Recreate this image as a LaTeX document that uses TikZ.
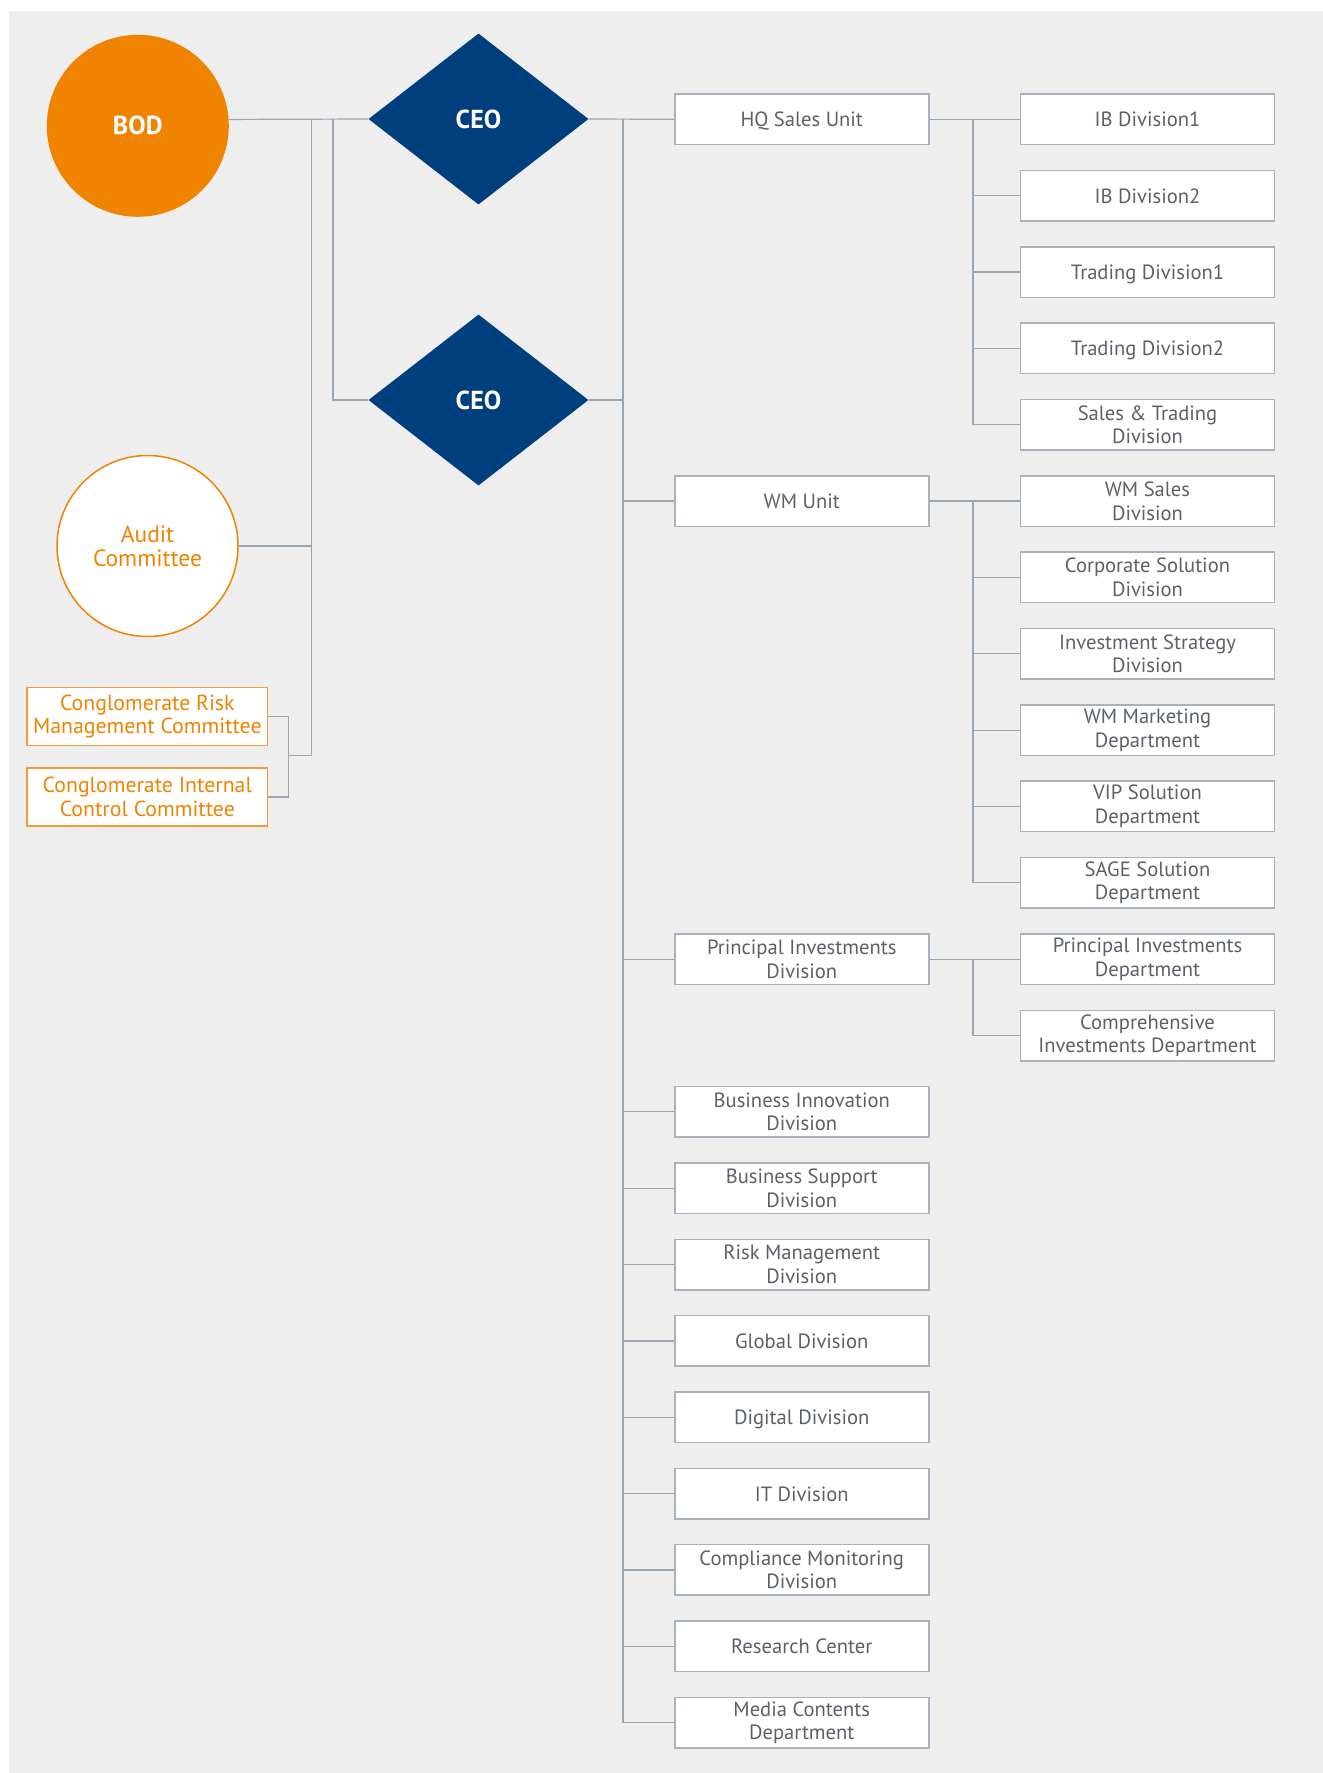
\documentclass[tikz,border=0pt]{standalone}
\usepackage{fontspec}
\setmainfont{PT Sans}
\usetikzlibrary{shapes.geometric}

\definecolor{pagebg}{HTML}{EEEEEE}
\definecolor{brandorange}{HTML}{F08300}
\definecolor{navy}{HTML}{003F7E}
\definecolor{wire}{HTML}{9BA6B0}
\definecolor{boxline}{HTML}{A9B2BA}
\definecolor{ink}{HTML}{5C6068}

\begin{document}
\begin{tikzpicture}[x=1pt,y=-1pt,
  conn/.style={draw=wire,line width=1.2pt},
  bodytext/.style={font=\fontsize{20.6}{23.5}\selectfont},
  oneline/.style={text height=14.8pt,text depth=0pt},
  unitbox/.style={rectangle,draw=boxline,line width=1.5pt,fill=white,
    minimum width=254pt,minimum height=50.5pt,inner sep=0pt,align=center,
    text=ink,bodytext},
  cmtbox/.style={rectangle,draw=brandorange!80,line width=1.5pt,fill=white,
    minimum width=240.5pt,minimum height=58pt,inner sep=0pt,align=center,
    text=brandorange,font=\fontsize{21.8}{23.5}\selectfont},
  board/.style={circle,fill=brandorange,minimum size=182pt,inner sep=0pt,
    text=white,font=\fontsize{26}{28}\selectfont\bfseries},
  audit/.style={circle,draw=brandorange,line width=1.5pt,fill=white,
    minimum size=181pt,inner sep=0pt,align=center,text=brandorange,
    font=\fontsize{23.5}{24}\selectfont},
  chief/.style={diamond,fill=navy,minimum width=220pt,minimum height=171pt,
    inner sep=0pt,text=white,font=\fontsize{26}{28}\selectfont\bfseries}
]
% canvas
\useasboundingbox (0,0) rectangle (1323,1773);
\fill[pagebg] (9,11) rectangle (1323,1773);

% governance
\node[board] (bod) at (137.8,125.8) {BOD};
\node[audit] (audit) at (147.5,546) {Audit\\Committee};
\node[cmtbox] (risk) at (147.3,716.3) {Conglomerate Risk\\Management Committee};
\node[cmtbox] (ictl) at (147.3,797) {Conglomerate Internal\\Control Committee};
\node[chief] (ceoA) at (478.5,119) {CEO};
\node[chief] (ceoB) at (478.5,400) {CEO};

% middle column
\node[unitbox,oneline] (hq)   at (801.75,119.3)   {HQ Sales Unit};
\node[unitbox,oneline] (wm)   at (801.75,501.05)  {WM Unit};
\node[unitbox] (pi)   at (801.75,959.15)  {Principal Investments\\Division};
\node[unitbox] (bi)   at (801.75,1111.85) {Business Innovation\\Division};
\node[unitbox] (bs)   at (801.75,1188.2)  {Business Support\\Division};
\node[unitbox] (rm)   at (801.75,1264.55) {Risk Management\\Division};
\node[unitbox,oneline] (gl)   at (801.75,1340.9)  {Global Division};
\node[unitbox,oneline] (dg)   at (801.75,1417.25) {Digital Division};
\node[unitbox,oneline] (it)   at (801.75,1493.6)  {IT Division};
\node[unitbox] (cm)   at (801.75,1569.95) {Compliance Monitoring\\Division};
\node[unitbox,oneline] (rc)   at (801.75,1646.3)  {Research Center};
\node[unitbox] (mc)   at (801.75,1722.65) {Media Contents\\Department};

% right column
\node[unitbox,oneline] (ib1)  at (1147.5,119.3)  {IB Division1};
\node[unitbox,oneline] (ib2)  at (1147.5,195.65) {IB Division2};
\node[unitbox,oneline] (tr1)  at (1147.5,272.0)  {Trading Division1};
\node[unitbox,oneline] (tr2)  at (1147.5,348.35) {Trading Division2};
\node[unitbox] (st)   at (1147.5,424.7)  {Sales \& Trading\\Division};
\node[unitbox] (wms)  at (1147.5,501.05) {WM Sales\\Division};
\node[unitbox] (cs)   at (1147.5,577.4)  {Corporate Solution\\Division};
\node[unitbox] (is)   at (1147.5,653.75) {Investment Strategy\\Division};
\node[unitbox] (wmm)  at (1147.5,730.1)  {WM Marketing\\Department};
\node[unitbox] (vip)  at (1147.5,806.45) {VIP Solution\\Department};
\node[unitbox] (sage) at (1147.5,882.8)  {SAGE Solution\\Department};
\node[unitbox] (pid)  at (1147.5,959.15) {Principal Investments\\Department};
\node[unitbox] (cid)  at (1147.5,1035.5) {Comprehensive\\Investments Department};

% bus lines
\coordinate (busA) at (311.7,119);
\coordinate (busAend) at (311.7,755.7);
\coordinate (busB) at (333,119);
\coordinate (cmtbus) at (288.7,755.7);
\coordinate (spine) at (623,119);
\coordinate (spineEnd) at (623,1722.65);
\coordinate (subbus) at (973,119.3);

% board to CEOs and committees
\draw[conn] (bod.4.3) -- (ceoA.west);
\draw[conn] (busA) -- (busAend);
\draw[conn] (busB) |- (ceoB.west);
\draw[conn] (audit.east) -- (busA |- audit.east);
\draw[conn] (risk.east) -| (cmtbus) |- (ictl.east);
\draw[conn] (cmtbus) -- (busAend);

% CEOs to the spine
\draw[conn] (ceoA.east) -- (hq.west);
\draw[conn] (ceoB.east) -- (spine |- ceoB.east);
\draw[conn] (spine) -- (spineEnd);
\foreach \n in {wm,pi,bi,bs,rm,gl,dg,it,cm,rc,mc}
  \draw[conn] (spine |- \n.west) -- (\n.west);

% unit brackets
\draw[conn] (hq.east) -- (ib1.west);
\draw[conn] (subbus |- hq.east) -- (subbus |- st.west);
\foreach \n in {ib2,tr1,tr2,st}
  \draw[conn] (subbus |- \n.west) -- (\n.west);
\draw[conn] (wm.east) -- (wms.west);
\draw[conn] (subbus |- wm.east) -- (subbus |- sage.west);
\foreach \n in {cs,is,wmm,vip,sage}
  \draw[conn] (subbus |- \n.west) -- (\n.west);
\draw[conn] (pi.east) -- (pid.west);
\draw[conn] (subbus |- pi.east) -- (subbus |- cid.west);
\draw[conn] (subbus |- cid.west) -- (cid.west);
\end{tikzpicture}
\end{document}
